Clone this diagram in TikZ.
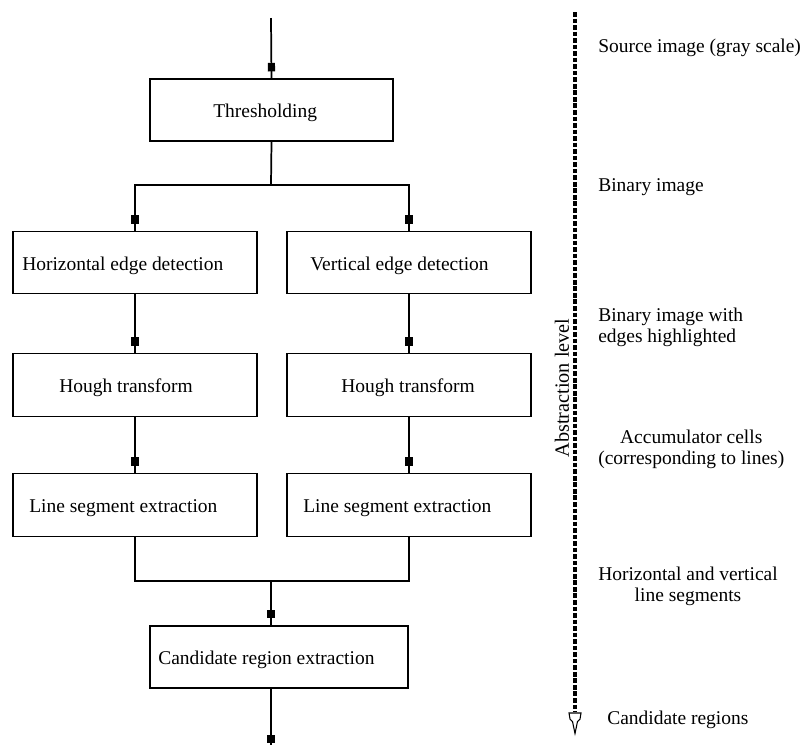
\documentclass[tikz,border=0pt]{standalone}
\usepackage{fontspec}
\setmainfont{Liberation Serif}
\usetikzlibrary{decorations.markings}
\tikzset{
  box/.style={draw, line width=1.3pt, inner sep=0pt, minimum width=183pt, minimum height=46.5pt},
  txt/.style={inner sep=0pt, anchor=base west, font=\fontsize{14.6pt}{15.8pt}\selectfont},
  side/.style={inner sep=0pt, anchor=west, font=\fontsize{14.6pt}{15.8pt}\selectfont},
  conn/.style={line width=1.3pt},
  arr/.style={line width=1.3pt, postaction={decorate},
    decoration={markings, mark=at position -5pt with {\fill (-6.5pt,-2.7pt) rectangle (0pt,2.7pt);}}}
}
\begin{document}
\begin{tikzpicture}[x=0.75pt,y=-0.75pt]
\useasboundingbox (0,0) rectangle (804,744);
% boxes
\node[box, minimum width=182.25pt] (thr) at (271.5,110) {};
\node[box] (hed) at (135,262.5) {};
\node[box] (ved) at (409,262.5) {};
\node[box, minimum height=47.25pt] (hol) at (135,385) {};
\node[box, minimum height=47.25pt] (hor) at (409,385) {};
\node[box, minimum height=47.25pt] (lsl) at (135,505) {};
\node[box, minimum height=47.25pt] (lsr) at (409,505) {};
\node[box, minimum width=193.5pt] (cand) at (279,657) {};
% box texts
\node[txt] (thrT) at (213,117) {Thresholding};
\node[txt] (hedT) at (22,270) {Horizontal edge detection};
\node[txt] (vedT) at (310,270) {Vertical edge detection};
\node[txt] (holT) at (59,392) {Hough transform};
\node[txt] (horT) at (341,392) {Hough transform};
\node[txt] (lslT) at (29,512) {Line segment extraction};
\node[txt] (lsrT) at (303,512) {Line segment extraction};
\node[txt] (candT) at (158,664) {Candidate region extraction};
% connectors
\coordinate (in) at (271,18);
\coordinate (split) at (271,185);
\coordinate (merge) at (271,581);
\coordinate (out) at (271,750);
\draw[arr] (in) -- (thr.north);
\draw[conn] (thr.south) -- (split);
\draw[arr] (split) -| (hed.north);
\draw[arr] (split) -| (ved.north);
\draw[arr] (hed) -- (hol);
\draw[arr] (ved) -- (hor);
\draw[arr] (hol) -- (lsl);
\draw[arr] (hor) -- (lsr);
\draw[conn] (lsl.south) |- (merge);
\draw[conn] (lsr.south) |- (merge);
\draw[arr] (merge) -- (merge |- cand.north);
\draw[arr] (merge |- cand.south) -- (out);
% abstraction axis
\coordinate (atop) at (575,12);
\coordinate (abot) at (575,712);
\draw[line width=2.4pt, dash pattern=on 3.5pt off 1.4pt] (atop) -- (abot);
\draw[line width=0.8pt] (abot) ++(-6,1) -- ++(12,0) -- ++(-1,6) -- ++(-2.5,2.5) -- ++(-2.5,12) -- ++(-2.5,-12) -- ++(-2.5,-2.5) -- cycle;
\node[inner sep=0pt, rotate=90, font=\fontsize{15.2pt}{16pt}\selectfont] (alev) at (562,388) {Abstraction level};
% side labels
\node[side] (l1) at (598,48) {Source image (gray scale)};
\node[side] (l2) at (598,187) {Binary image};
\node[side, align=left] (l3) at (598,327) {Binary image with\\edges highlighted};
\node[side, align=center] (l4) at (598,449) {Accumulator cells\\(corresponding to lines)};
\node[side, align=center] (l5) at (598,586) {Horizontal and vertical\\line segments};
\node[side] (l6) at (607,720) {Candidate regions};
\end{tikzpicture}
\end{document}
